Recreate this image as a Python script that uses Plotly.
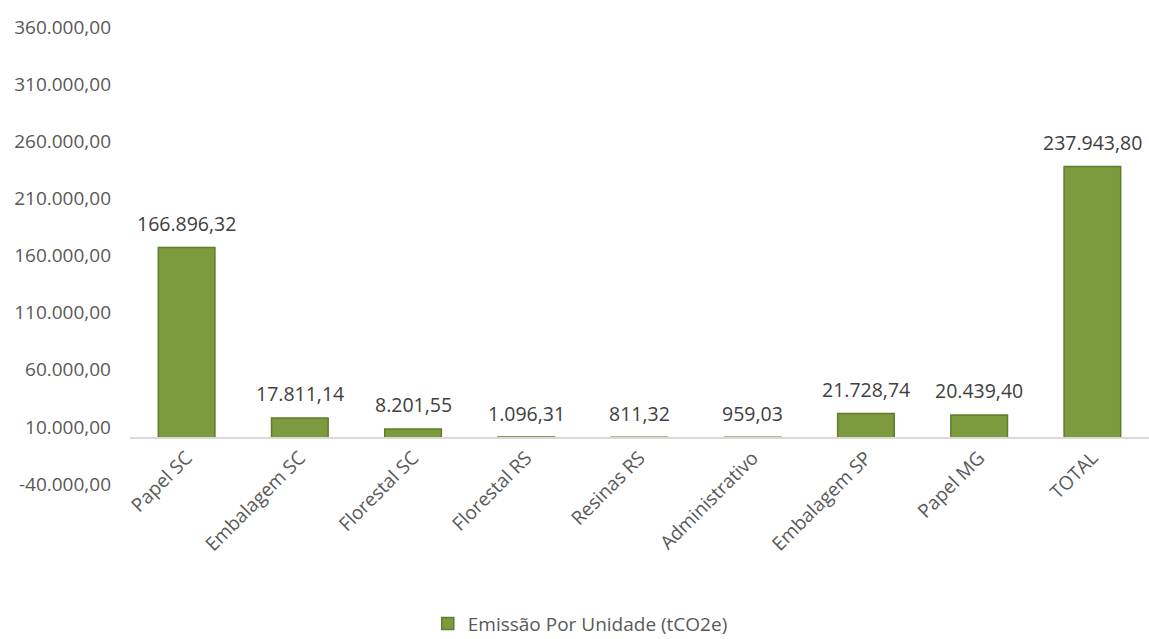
import plotly.graph_objects as go

categories = ["Papel SC", "Embalagem SC", "Florestal SC", "Florestal RS", "Resinas RS",
              "Administrativo", "Embalagem SP", "Papel MG", "TOTAL"]
values = [166896.32, 17811.14, 8201.55, 1096.31, 811.32, 959.03, 21728.74, 20439.40, 237943.80]
series_name = "Emissão Por Unidade (tCO2e)"
y_ticks = [-40000, 10000, 60000, 110000, 160000, 210000, 260000, 310000, 360000]


def br(v):
    s = f"{v:,.2f}"
    return s.replace(",", "X").replace(".", ",").replace("X", ".")


FONT = "Open Sans"
fig = go.Figure()
fig.add_trace(go.Bar(
    x=categories, y=values, name=series_name,
    marker=dict(color="#7B9B3E", line=dict(color="#5F7D2B", width=1.5)),
    showlegend=True,
))

for c, v in zip(categories, values):
    fig.add_annotation(x=c, y=v, text=br(v), showarrow=False, yanchor="middle", yshift=24,
                       font=dict(family=FONT, size=19.5, color="#404040"))

fig.update_layout(
    width=1149, height=639,
    margin=dict(l=130, r=0, t=27, b=155),
    paper_bgcolor="white", plot_bgcolor="white",
    bargap=0.5,
    font=dict(family=FONT, size=18, color="#595959"),
    showlegend=True,
    legend=dict(orientation="h", xref="container", x=0.505, xanchor="center",
                yref="container", y=0.024, yanchor="middle",
                font=dict(family=FONT, size=19, color="#595959")),
    xaxis=dict(anchor="free", position=0.1, showline=True, linecolor="#D9D9D9", linewidth=2,
               tickangle=-45, ticks="", showgrid=False,
               tickfont=dict(family=FONT, size=19, color="#595959")),
    yaxis=dict(range=[-40000, 360000], tickvals=y_ticks, ticktext=[br(t) for t in y_ticks],
               showgrid=False, zeroline=False, showline=False, ticks="",
               ticklabelstandoff=18,
               tickfont=dict(family=FONT, size=19, color="#595959")),
)

fig.write_html("out.html")
